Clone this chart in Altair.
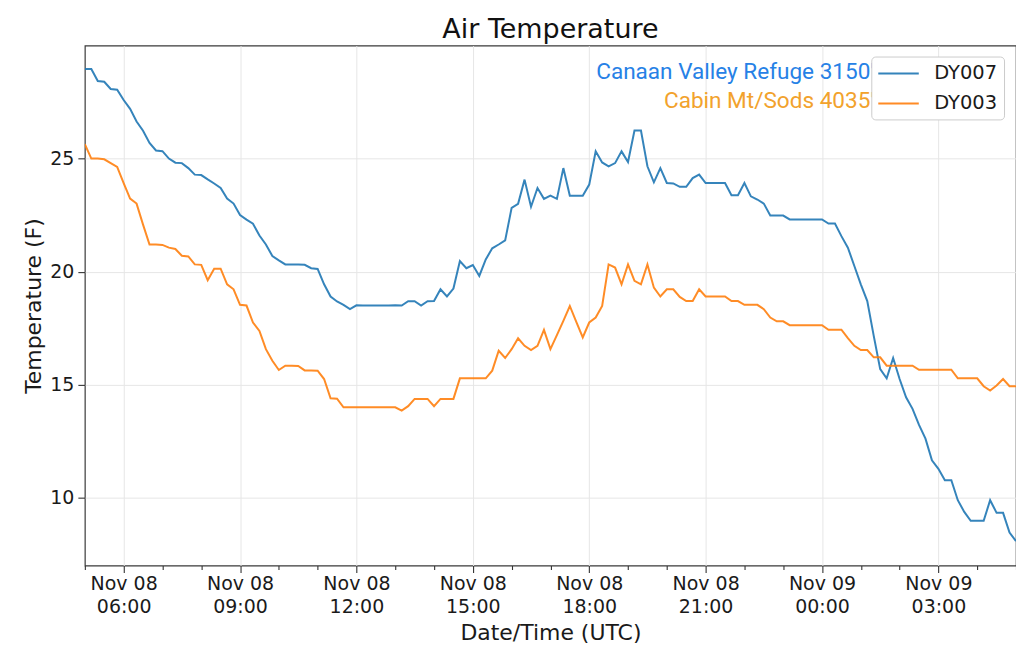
import altair as alt
import pandas as pd

# ---- data (10-minute readings, Nov 08 05:00 UTC -> Nov 09 05:00 UTC)
START = "2019-11-08 05:00"
N_POINTS = 145
STEP = "10min"

stations = ["DY007", "DY003"]
station_colors = ["#1f77b4", "#ff7f0e"]
site_names = ["Canaan Valley Refuge 3150'", "Cabin Mt/Sods 4035'"]
site_colors = ["#2681e6", "#f2a22c"]

dy007 = [
    28.96, 28.96, 28.43, 28.40, 28.08, 28.05, 27.59, 27.20, 26.64, 26.23,
    25.69, 25.36, 25.33, 25.00, 24.82, 24.80, 24.58, 24.29, 24.27, 24.08,
    23.90, 23.70, 23.23, 23.01, 22.50, 22.30, 22.12, 21.60, 21.20, 20.69,
    20.50, 20.32, 20.32, 20.32, 20.30, 20.15, 20.12, 19.44, 18.90, 18.68,
    18.53, 18.34, 18.51, 18.50, 18.50, 18.50, 18.50, 18.50, 18.51, 18.50,
    18.69, 18.69, 18.50, 18.69, 18.70, 19.22, 18.90, 19.25, 20.47, 20.15,
    20.29, 19.81, 20.54, 21.03, 21.20, 21.38, 22.82, 23.00, 24.07, 22.87,
    23.70, 23.22, 23.36, 23.22, 24.58, 23.36, 23.36, 23.36, 23.85, 25.32,
    24.83, 24.66, 24.80, 25.32, 24.85, 26.24, 26.24, 24.66, 23.95, 24.58,
    23.92, 23.90, 23.75, 23.75, 24.14, 24.29, 23.92, 23.92, 23.92, 23.92,
    23.38, 23.38, 23.92, 23.33, 23.19, 23.01, 22.48, 22.48, 22.48, 22.31,
    22.31, 22.31, 22.31, 22.31, 22.31, 22.13, 22.13, 21.57, 21.06, 20.25,
    19.44, 18.70, 17.16, 15.69, 15.28, 16.18, 15.25, 14.44, 13.93, 13.22,
    12.61, 11.65, 11.28, 10.77, 10.77, 9.89, 9.37, 8.98, 8.98, 8.98,
    9.89, 9.33, 9.33, 8.46, 8.08,
]

dy003 = [
    25.64, 25.00, 25.00, 24.97, 24.80, 24.63, 23.92, 23.23, 23.01, 22.08,
    21.20, 21.20, 21.18, 21.06, 21.00, 20.70, 20.67, 20.32, 20.30, 19.62,
    20.13, 20.13, 19.44, 19.22, 18.53, 18.50, 17.75, 17.38, 16.57, 16.06,
    15.65, 15.84, 15.84, 15.83, 15.63, 15.63, 15.62, 15.25, 14.40, 14.38,
    14.00, 14.00, 14.00, 14.00, 14.00, 14.00, 14.00, 14.00, 14.00, 13.85,
    14.05, 14.37, 14.37, 14.37, 14.05, 14.37, 14.37, 14.37, 15.28, 15.28,
    15.28, 15.28, 15.28, 15.62, 16.50, 16.18, 16.57, 17.05, 16.72, 16.53,
    16.72, 17.42, 16.57, 17.19, 17.82, 18.48, 17.78, 17.09, 17.75, 17.97,
    18.48, 20.32, 20.18, 19.44, 20.32, 19.59, 19.44, 20.32, 19.29, 18.90,
    19.22, 19.22, 18.88, 18.70, 18.70, 19.22, 18.90, 18.90, 18.90, 18.90,
    18.70, 18.70, 18.53, 18.53, 18.53, 18.34, 17.97, 17.80, 17.80, 17.63,
    17.63, 17.63, 17.63, 17.63, 17.63, 17.43, 17.43, 17.43, 17.06, 16.72,
    16.53, 16.53, 16.21, 16.21, 15.84, 15.84, 15.84, 15.84, 15.84, 15.66,
    15.66, 15.66, 15.66, 15.66, 15.66, 15.28, 15.28, 15.28, 15.28, 14.93,
    14.74, 14.96, 15.25, 14.93, 14.93,
]

y_ticks = [10, 15, 20, 25]
y_domain = [7.0, 30.0]

# ---- build the table
times = pd.date_range(START, periods=N_POINTS, freq=STEP, tz="UTC")
time_str = [t.strftime("%Y-%m-%dT%H:%M:%SZ") for t in times]
df = pd.concat([
    pd.DataFrame({"time": time_str, "temp": dy007, "station": "DY007"}),
    pd.DataFrame({"time": time_str, "temp": dy003, "station": "DY003"}),
], ignore_index=True)


def dt(ts):
    return alt.DateTime(year=ts.year, month=ts.month, date=ts.day,
                        hours=ts.hour, minutes=ts.minute, utc=True)


hour_ticks = [dt(t) for t in pd.date_range(times[0], times[-1], freq="1h")]
x_domain = [dt(times[0]), dt(times[-1])]

major = "utchours(datum.value) % 3 == 0"

x_axis = alt.Axis(
    title="Date/Time (UTC)",
    values=hour_ticks,
    labelExpr=f"{major} ? [utcFormat(datum.value, '%b %d'), utcFormat(datum.value, '%H:%M')] : ''",
    labelOverlap=False,
    labelFlush=False,
    labelBound=False,
    labelLineHeight=23,
    labelPadding=2,
    tickSize={"condition": {"test": major, "value": 7}, "value": 4},
    gridOpacity={"condition": {"test": major, "value": 1}, "value": 0},
    titlePadding=6,
)

y_axis = alt.Axis(
    title="Temperature (F)",
    values=y_ticks,
    tickSize=7,
    labelPadding=4,
    titlePadding=4,
)

lines = alt.Chart(df).mark_line(strokeWidth=2, opacity=0.9, clip=True).encode(
    x=alt.X("time:T", scale=alt.Scale(type="utc", domain=x_domain), axis=x_axis),
    y=alt.Y("temp:Q", scale=alt.Scale(domain=y_domain, nice=False, zero=False), axis=y_axis),
    color=alt.Color(
        "station:N",
        scale=alt.Scale(domain=stations, range=station_colors),
        sort=stations,
        legend=alt.Legend(
            title=None,
            orient="none",
            legendX=788,
            legendY=11,
            symbolType="M-1,0H3.06",
            symbolSize=400,
            symbolStrokeWidth=2,
            labelFont="DejaVu Sans",
            labelFontSize=19.5,
            labelColor="#1a1a1a",
            labelOffset=35,
            labelLimit=0,
            rowPadding=9,
            padding=6,
            fillColor="white",
            strokeColor="#cccccc",
            cornerRadius=4,
            zindex=1,
        ),
    ),
)

site1 = alt.Chart(pd.DataFrame({"label": [site_names[0]]})).mark_text(
    align="right", baseline="middle", font="Roboto", fontSize=22.6, fill=site_colors[0]
).encode(text="label:N", x=alt.value(791), y=alt.value(27))

site2 = alt.Chart(pd.DataFrame({"label": [site_names[1]]})).mark_text(
    align="right", baseline="middle", font="Roboto", fontSize=22.6, fill=site_colors[1]
).encode(text="label:N", x=alt.value(791), y=alt.value(56))

chart = alt.layer(lines, site1, site2).properties(
    width=933,
    height=521,
    autosize=alt.AutoSizeParams(type="none"),
    padding={"left": 77, "top": 37, "right": 0, "bottom": 78},
    title=alt.TitleParams(
        "Air Temperature", font="DejaVu Sans", fontSize=27, fontWeight="normal",
        color="#111111", anchor="middle", frame="group", offset=2,
    ),
    background="white",
).configure_view(
    stroke="#3a3a3a", strokeWidth=1.2
).configure_axis(
    labelFont="DejaVu Sans", labelFontSize=19, labelColor="#1a1a1a",
    titleFont="DejaVu Sans", titleFontSize=22, titleFontWeight="normal", titleColor="#1a1a1a",
    domain=False, tickColor="#333333", tickWidth=1.1,
    grid=True, gridColor="#e6e6e6", gridWidth=1,
)

chart.save("out.html", embed_options={"renderer": "svg", "actions": False})
